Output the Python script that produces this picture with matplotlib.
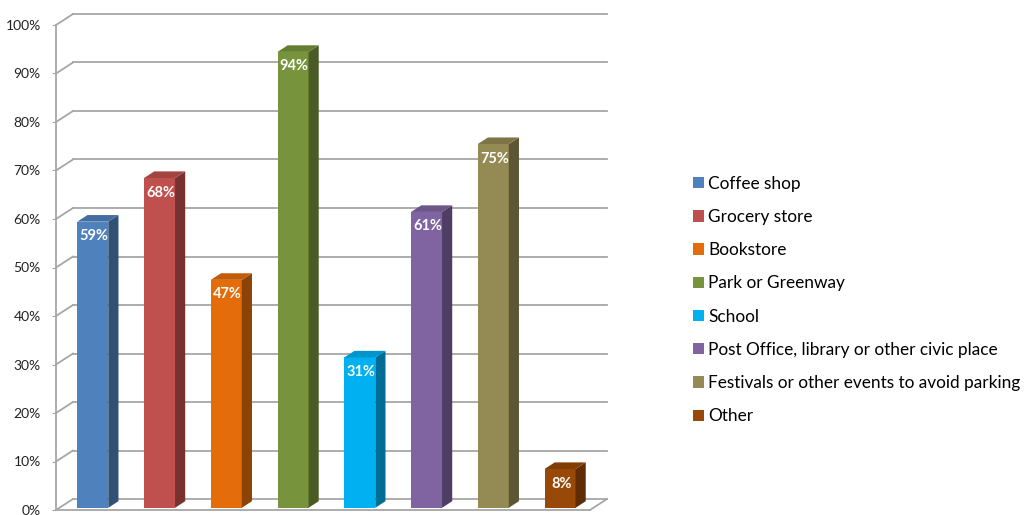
import numpy as np
import matplotlib.pyplot as plt
from matplotlib.patches import Polygon, Patch
from matplotlib.ticker import PercentFormatter
from matplotlib.colors import to_rgb

plt.rcParams['font.family'] = ['Lato', 'DejaVu Sans']

categories = ['Coffee shop', 'Grocery store', 'Bookstore', 'Park or Greenway', 'School',
              'Post Office, library or other civic place',
              'Festivals or other events to avoid parking', 'Other']
values = [59, 68, 47, 94, 31, 61, 75, 8]
colors = ['#4F81BD', '#C0504D', '#E46C0A', '#77933C', '#00B0F0',
          '#8064A2', '#948A54', '#984807']
yticks = list(range(0, 101, 10))

W, H = 1024, 515
fig = plt.figure(figsize=(W / 100, H / 100), dpi=100)
# plot area: front floor edge 56..590 px, 0% at y=510 px, 100% at y=25 px
ax = fig.add_axes([56 / W, (H - 510) / H, 534 / W, 485 / H])
n = len(categories)
ax.set_xlim(-0.5, n - 0.5)
ax.set_ylim(0, 100)

# depth of the fake 3d box, in data units
dx = 17 / 534 * n
dy = 11 / 485 * 100
grid_c = '#a6a6a6'

# back wall + side wall gridlines
for t in yticks:
    ax.plot([-0.5, -0.5 + dx], [t, t + dy], color=grid_c, lw=1.3, clip_on=False, zorder=1)
    ax.plot([-0.5 + dx, n - 0.5 + dx], [t + dy, t + dy], color=grid_c, lw=1.3,
            clip_on=False, zorder=1)

# floor
ax.plot([-0.5, n - 0.5], [0, 0], color=grid_c, lw=1.3, clip_on=False, zorder=1)
ax.plot([n - 0.5, n - 0.5 + dx], [0, dy], color=grid_c, lw=1.3, clip_on=False, zorder=1)

# bars: front face sits 20% into the depth, back face at 80%
w = 31 / 66.75
f0, f1 = 0.2, 0.8
ex, ey = (f1 - f0) * dx, (f1 - f0) * dy

def shade(c, k):
    return tuple(np.array(to_rgb(c)) * k)

for i, (v, c) in enumerate(zip(values, colors)):
    xc = i + f0 * dx
    y0 = f0 * dy
    ax.bar(xc, v, bottom=y0, width=w, color=c, zorder=3, clip_on=False)
    x0, x1, y1 = xc - w / 2, xc + w / 2, v + y0
    side = [(x1, y0), (x1 + ex, y0 + ey), (x1 + ex, y1 + ey), (x1, y1)]
    top = [(x0, y1), (x1, y1), (x1 + ex, y1 + ey), (x0 + ex, y1 + ey)]
    ax.add_patch(Polygon(side, closed=True, facecolor=shade(c, 0.62), edgecolor='none',
                         zorder=3, clip_on=False))
    ax.add_patch(Polygon(top, closed=True, facecolor=shade(c, 0.85), edgecolor='none',
                         zorder=3, clip_on=False))
    ax.text(xc + 0.02, y1 - 3.0, f'{v}%', ha='center', va='center', color='white',
            fontweight='bold', fontsize=10.5, zorder=4)

ax.set_yticks(yticks)
ax.yaxis.set_major_formatter(PercentFormatter(decimals=0))
ax.tick_params(axis='y', length=3, color=grid_c, pad=8, labelsize=10, labelcolor='#222222')
ax.set_xticks([])
for s in ['top', 'right', 'bottom']:
    ax.spines[s].set_visible(False)
ax.spines['left'].set_color(grid_c)
ax.spines['left'].set_linewidth(1.3)
ax.patch.set_visible(False)

handles = [Patch(facecolor=c) for c in colors]
fig.legend(handles, categories, loc='center left',
           bbox_to_anchor=(693 / W, (H - 300) / H), frameon=False, fontsize=12.4,
           handlelength=0.64, handleheight=0.64, handletextpad=0.25,
           labelspacing=1.0, borderpad=0, borderaxespad=0)

fig.savefig('out.png', dpi=100)
